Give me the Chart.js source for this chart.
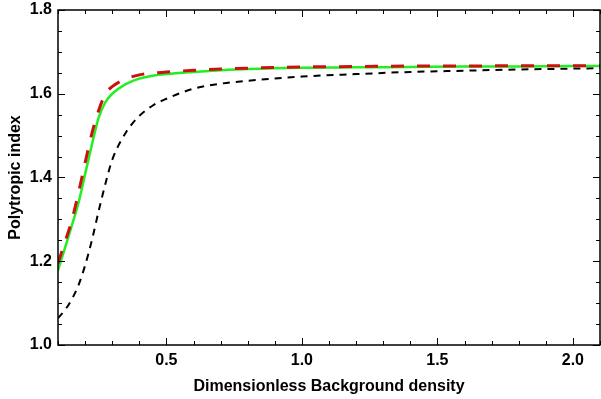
<!DOCTYPE html>
<html>
<head>
<meta charset="utf-8">
<script src="https://cdn.jsdelivr.net/npm/chart.js@4/dist/chart.umd.min.js"></script>
<style>
  html, body { margin: 0; padding: 0; background: #fff; }
  #wrap { width: 601px; height: 399px; }
</style>
</head>
<body>
<div id="wrap"><canvas id="c" width="601" height="399"></canvas></div>
<script>
// background density (x) samples
const xs = [0.1, 0.125, 0.15, 0.175, 0.2, 0.225, 0.25, 0.275, 0.3, 0.35, 0.4, 0.45, 0.5,
            0.6, 0.7, 0.8, 1.0, 1.2, 1.4, 1.6, 1.8, 2.0, 2.1];
const greenY = [1.178, 1.230, 1.283, 1.338, 1.408, 1.478, 1.543, 1.580, 1.600, 1.623, 1.636, 1.643, 1.647,
                1.652, 1.656, 1.659, 1.662, 1.663, 1.664, 1.665, 1.665, 1.666, 1.666];
const redY   = [1.195, 1.245, 1.295, 1.362, 1.435, 1.505, 1.560, 1.600, 1.617, 1.635, 1.645, 1.649, 1.652,
                1.656, 1.659, 1.661, 1.664, 1.665, 1.666, 1.666, 1.667, 1.667, 1.667];
const blackY = [1.064, 1.083, 1.108, 1.142, 1.190, 1.250, 1.320, 1.385, 1.442, 1.507, 1.547, 1.572, 1.588,
                1.612, 1.624, 1.631, 1.641, 1.647, 1.652, 1.655, 1.658, 1.660, 1.661];

const xTicks = [0.5, 1.0, 1.5, 2.0];
const yTicks = [1.0, 1.2, 1.4, 1.6, 1.8];
const xMinorStep = 0.1, yMinorStep = 0.05;

const pts = ys => xs.map((x, i) => ({ x, y: ys[i] }));
const font = { family: '"Liberation Sans", Arial, sans-serif', size: 16, weight: 'bold' };

// box frame with inward ticks on all four sides
const frame = {
    id: 'frame',
    afterDatasetsDraw(chart) {
        const { ctx, chartArea: a, scales: { x, y } } = chart;
        ctx.save();
        ctx.strokeStyle = '#000';
        ctx.lineWidth = 1;
        ctx.beginPath();
        const isMajor = (v, list) => list.some(t => Math.abs(t - v) < 1e-6);
        for (let v = x.min; v <= x.max + 1e-9; v += xMinorStep) {
            const px = Math.round(x.getPixelForValue(v)) + 0.5;
            const len = isMajor(v, xTicks) ? 7 : 4;
            ctx.moveTo(px, a.bottom); ctx.lineTo(px, a.bottom - len);
            ctx.moveTo(px, a.top); ctx.lineTo(px, a.top + len);
        }
        for (let v = y.min; v <= y.max + 1e-9; v += yMinorStep) {
            const py = Math.round(y.getPixelForValue(v)) + 0.5;
            const len = isMajor(v, yTicks) ? 7 : 4;
            ctx.moveTo(a.left, py); ctx.lineTo(a.left + len, py);
            ctx.moveTo(a.right, py); ctx.lineTo(a.right - len, py);
        }
        ctx.stroke();
        ctx.lineWidth = 1.5;
        ctx.strokeRect(a.left, a.top, a.right - a.left, a.bottom - a.top);
        ctx.restore();
    }
};

new Chart(document.getElementById('c'), {
    type: 'line',
    data: {
        datasets: [
            { data: pts(redY), borderColor: '#cc1111', borderWidth: 3, borderDash: [13, 13] },
            { data: pts(greenY), borderColor: '#22ee22', borderWidth: 2.5 },
            { data: pts(blackY), borderColor: '#000000', borderWidth: 2, borderDash: [7, 6] },
        ].map(d => ({ ...d, pointRadius: 0, fill: false, cubicInterpolationMode: 'monotone' })),
    },
    options: {
        responsive: false,
        animation: false,
        events: [],
        layout: { padding: { top: 10, right: 1, left: 0, bottom: 0 } },
        plugins: { legend: { display: false }, tooltip: { enabled: false } },
        scales: {
            x: {
                type: 'linear', min: 0.1, max: 2.1,
                afterBuildTicks: s => { s.ticks = xTicks.map(v => ({ value: v })); },
                afterFit: s => { s.height = 54; s.paddingLeft = 0; s.paddingRight = 0; },
                grid: { display: false, drawTicks: false },
                border: { display: false },
                ticks: { font, color: '#000', padding: 6, maxRotation: 0, callback: v => v.toFixed(1) },
                title: { display: true, text: 'Dimensionless Background density', font, color: '#000', padding: { top: 4, bottom: 3 } },
            },
            y: {
                type: 'linear', min: 1.0, max: 1.8,
                afterBuildTicks: s => { s.ticks = yTicks.map(v => ({ value: v })); },
                afterFit: s => { s.width = 58; s.paddingTop = 0; s.paddingBottom = 0; },
                grid: { display: false, drawTicks: false },
                border: { display: false },
                ticks: { font, color: '#000', padding: 6, callback: v => v.toFixed(1) },
                title: { display: true, text: 'Polytropic index', font, color: '#000', padding: { top: 6, bottom: 0 } },
            },
        },
    },
    plugins: [frame],
});
</script>
</body>
</html>
